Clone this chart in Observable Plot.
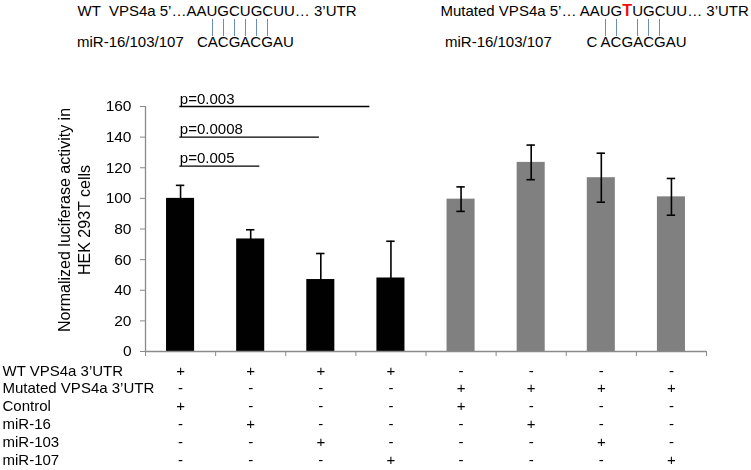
<!DOCTYPE html>
<html>
<head>
<meta charset="utf-8">
<script src="https://cdn.jsdelivr.net/npm/d3@7"></script>
<script src="https://cdn.jsdelivr.net/npm/@observablehq/plot@0.6"></script>
<style>
  html, body { margin: 0; padding: 0; background: #fff; }
  #wrap { position: relative; width: 751px; font-family: 'Liberation Sans', Arial, sans-serif; color: #000; }
  #hdr { position: relative; width: 751px; height: 62px; font-size: 15px; line-height: 17px; }
  #hdr .t { position: absolute; white-space: pre; }
  #hdr .mut { color: #e8100e; font-weight: bold; font-size: 1.08em; }
  #hdr .pl { position: absolute; width: 1px; background: #6a8cc0; }
  svg { display: block; will-change: transform; opacity: 0.999; -webkit-font-smoothing: antialiased; }
</style>
</head>
<body>
<div id="wrap"><div id="hdr"></div></div>
<script>
// ---- data ----
const conditions = ["WT+Control","WT+miR-16","WT+miR-103","WT+miR-107","Mut+Control","Mut+miR-16","Mut+miR-103","Mut+miR-107"];
const groups = ["WT","WT","WT","WT","Mut","Mut","Mut","Mut"];
const values = [100, 73.5, 47, 48, 99.5, 123.5, 113.5, 101];
const errors = [8.5, 6, 17, 24, 8, 11.3, 16, 12];
const yTicks = [0, 20, 40, 60, 80, 100, 120, 140, 160];

const pLabels = ["p=0.005", "p=0.0008", "p=0.003"];
const pY = [121, 140, 160];
const pStart = [0.49, 0.49, 0.49];
const pEnd = [1.63, 2.48, 3.2];

const rowLabels = ["WT VPS4a 3’UTR", "Mutated VPS4a 3’UTR", "Control", "miR-16", "miR-103", "miR-107"];
const rowWT      = ["+","+","+","+","-","-","-","-"];
const rowMut     = ["-","-","-","-","+","+","+","+"];
const rowControl = ["+","-","-","-","+","-","-","-"];
const rowMiR16   = ["-","+","-","-","-","+","-","-"];
const rowMiR103  = ["-","-","+","-","-","-","+","-"];
const rowMiR107  = ["-","-","-","+","-","-","-","+"];
const rows = [rowWT, rowMut, rowControl, rowMiR16, rowMiR103, rowMiR107];

const yTitle = "Normalized luciferase activity in\nHEK 293T cells";

// header sequences
const wtPrefix = "WT  VPS4a 5’…";
const wtSeq = "AAUGCUGCUU";
const wtSuffix = "… 3’UTR";
const wtPaired = [2, 3, 4, 5, 6, 7];
const wtMir = "CACGACGAU";
const wtMirPaired = [1, 2, 3, 4, 5, 6];
const mutPrefix = "Mutated VPS4a 5’… ";
const mutSeq = "AAUGTUGCUU";
const mutSuffix = "… 3’UTR";
const mutPaired = [2, 3, 5, 6, 7];
const mutSite = [4];
const mutMir = "C ACGACGAU";
const mutMirPaired = [2, 3, 5, 6, 7];
const mirName = "miR-16/103/107";

// ---- header ----
const hdr = document.getElementById("hdr");
function addDiv(left, top, html) {
  const d = document.createElement("div");
  d.className = "t";
  d.style.left = left + "px";
  d.style.top = top + "px";
  d.innerHTML = html;
  hdr.appendChild(d);
  return d;
}
function seqHTML(seq, paired, mutated) {
  let h = "";
  for (let i = 0; i < seq.length; i++) {
    const cls = [];
    if (paired.includes(i)) cls.push("pp");
    if (mutated.includes(i)) cls.push("mut");
    h += cls.length ? `<span class="${cls.join(" ")}">${seq[i]}</span>` : seq[i];
  }
  return h;
}
function block(left, prefix, seq, suffix, paired, mutated, mir, mirPaired, nameLeft) {
  const top = addDiv(left, 2, prefix + seqHTML(seq, paired, mutated) + suffix);
  addDiv(nameLeft, 33, mirName);
  const bot = addDiv(0, 33, seqHTML(mir, mirPaired, []));
  const hr = hdr.getBoundingClientRect();
  const cx = s => { const r = s.getBoundingClientRect(); return r.left + r.width / 2 - hr.left; };
  const tops = [...top.querySelectorAll(".pp")].map(cx);
  const bots0 = [...bot.querySelectorAll(".pp")].map(cx);
  const shift = d3.mean(tops) - d3.mean(bots0);
  bot.style.left = shift + "px";
  tops.forEach((x, k) => {
    const l = document.createElement("div");
    l.className = "pl";
    l.style.left = ((x + bots0[k] + shift) / 2 - 0.5) + "px";
    l.style.top = "19px";
    l.style.height = "16.5px";
    hdr.appendChild(l);
  });
}
block(77.5, wtPrefix, wtSeq, wtSuffix, wtPaired, [], wtMir, wtMirPaired, 77);
block(440.5, mutPrefix, mutSeq, mutSuffix, mutPaired, mutSite, mutMir, mutMirPaired, 445);

// ---- chart ----
const bars = values.map((v, i) => ({i, v, e: errors[i], g: groups[i], c: conditions[i]}));
const pData = pLabels.map((t, k) => ({t, y: pY[k], x1: pStart[k], x2: pEnd[k]}));
const AX = "#8a8a8a";

const rowMarks = [];
rows.forEach((row, k) => {
  const dy = 24 + 17.8 * k;
  rowMarks.push(Plot.text(row.map((s, i) => ({s, i})), {
    x: d => d.i + 0.5, text: "s", frameAnchor: "bottom", dy, fontSize: 15, fill: "#000"
  }));
  rowMarks.push(Plot.text([rowLabels[k]], {
    text: d => d, frameAnchor: "bottom-left", textAnchor: "start", dx: -143, dy, fontSize: 15, fill: "#000"
  }));
});

const chart = Plot.plot({
  width: 751,
  height: 408,
  marginLeft: 145,
  marginRight: 45,
  marginTop: 44,
  marginBottom: 119,
  x: {type: "linear", domain: [0, 8], axis: null},
  y: {domain: [0, 160], axis: null, label: null},
  color: {domain: ["WT", "Mut"], range: ["#000000", "#808080"]},
  style: {fontFamily: "'Liberation Sans', Arial, sans-serif", fontSize: "15px", color: "#000", background: "#fff"},
  marks: [
    Plot.rectY(bars, {x1: d => d.i + 0.3, x2: d => d.i + 0.7, y1: 0, y2: "v", fill: "g"}),
    Plot.ruleX(bars, {x: d => d.i + 0.5, y1: d => d.v - d.e, y2: d => d.v + d.e, stroke: "#000", strokeWidth: 1.6}),
    Plot.ruleY(bars, {y: d => d.v + d.e, x1: d => d.i + 0.44, x2: d => d.i + 0.56, stroke: "#000", strokeWidth: 1.6}),
    Plot.ruleY(bars, {y: d => d.v - d.e, x1: d => d.i + 0.44, x2: d => d.i + 0.56, stroke: "#000", strokeWidth: 1.6}),
    Plot.ruleX([0], {y1: 0, y2: 160, stroke: AX, strokeWidth: 1.3}),
    Plot.ruleY([0], {x1: 0, x2: 8, stroke: AX, strokeWidth: 1.3}),
    Plot.axisY({ticks: yTicks, tickSize: 5, tickPadding: 9, stroke: AX, fill: "#000", fontSize: 15.5, label: null}),
    Plot.axisX({ticks: d3.range(9), tickSize: 5, tickFormat: () => "", stroke: AX, label: null}),
    Plot.ruleY(pData, {y: "y", x1: "x1", x2: "x2", stroke: "#000", strokeWidth: 1.3}),
    Plot.text(pData, {x: "x1", y: "y", text: "t", textAnchor: "start", lineAnchor: "bottom", dy: -3, fontSize: 15, fill: "#000"}),
    Plot.text([yTitle], {text: d => d, frameAnchor: "left", textAnchor: "middle", dx: -72, dy: -9, rotate: -90, lineHeight: 1.22, fontSize: 16, fill: "#000"}),
    ...rowMarks
  ]
});
document.getElementById("wrap").appendChild(chart);
</script>
</body>
</html>
